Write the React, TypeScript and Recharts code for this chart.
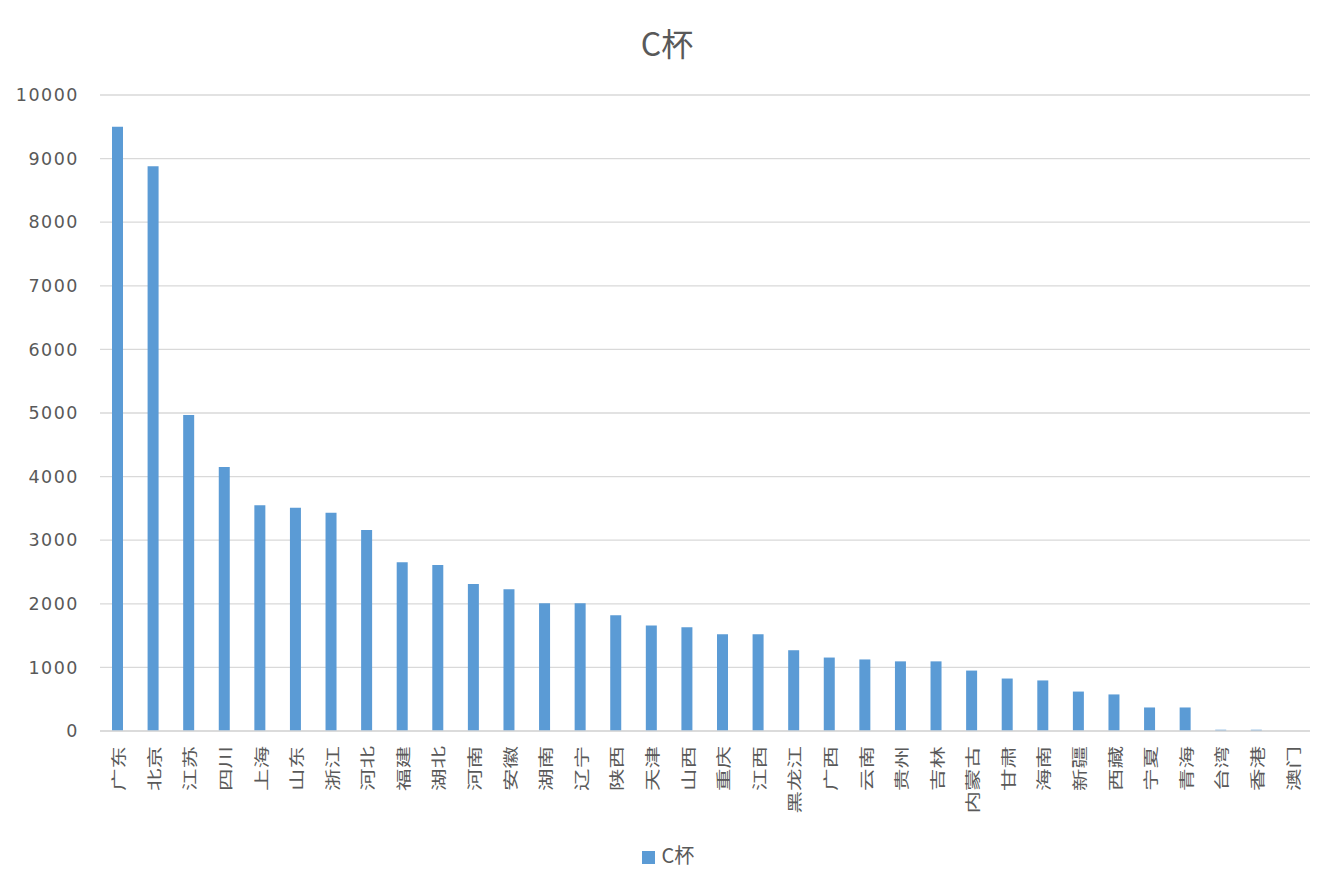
import { Bar, BarChart, CartesianGrid, Legend, XAxis, YAxis } from "recharts";

const provinces = [
  "广东", "北京", "江苏", "四川", "上海", "山东", "浙江", "河北", "福建", "湖北", "河南", "安徽",
  "湖南", "辽宁", "陕西", "天津", "山西", "重庆", "江西", "黑龙江", "广西", "云南", "贵州", "吉林",
  "内蒙古", "甘肃", "海南", "新疆", "西藏", "宁夏", "青海", "台湾", "香港", "澳门",
];

const cupC = [
  9500, 8880, 4970, 4150, 3550, 3510, 3430, 3160, 2655, 2610, 2310, 2230,
  2010, 2010, 1820, 1660, 1630, 1520, 1520, 1270, 1155, 1125, 1095, 1095,
  950, 825, 795, 620, 575, 370, 370, 20, 20, 0,
];

const yTicks = [0, 1000, 2000, 3000, 4000, 5000, 6000, 7000, 8000, 9000, 10000];

const data = provinces.map((name, i) => ({ name, value: cupC[i] }));

const font = '"DejaVu Sans", "Noto Sans CJK SC", sans-serif';
const cjkFont = '"Noto Sans CJK SC", sans-serif';

function ProvinceTick({ x, y, payload }: any) {
  return (
    <g transform={`translate(${x},${y + 7})`}>
      <text
        transform="rotate(-90) scale(1.25,0.85)"
        textAnchor="end"
        dominantBaseline="central"
        fill="#595959"
        fontSize={18}
        fontFamily={cjkFont}
      >
        {payload.value}
      </text>
    </g>
  );
}

export default function App() {
  return (
    <div style={{ position: "absolute", left: 0, top: 0, background: "#fff" }}>
      <BarChart
        width={1334}
        height={889}
        data={data}
        margin={{ top: 95, right: 24, left: 0, bottom: 22 }}
      >
        <text x={667} y={56} textAnchor="middle" fontSize={32} fill="#595959" fontFamily={cjkFont}>
          C杯
        </text>
        <CartesianGrid vertical={false} stroke="#d9d9d9" strokeWidth={1.3} />
        <XAxis
          dataKey="name"
          interval={0}
          height={112}
          tickLine={false}
          stroke="#d9d9d9"
          strokeWidth={1.3}
          tick={<ProvinceTick />}
        />
        <YAxis
          width={100}
          domain={[0, 10000]}
          ticks={yTicks}
          axisLine={false}
          tickLine={false}
          tickMargin={15}
          tick={{ fill: "#595959", fontSize: 17.5, fontFamily: font, letterSpacing: 1.5 }}
        />
        <Legend
          verticalAlign="bottom"
          iconType="square"
          iconSize={13}
          wrapperStyle={{ fontSize: 20, fontFamily: cjkFont, lineHeight: "24px", paddingLeft: 18 }}
          formatter={(v) => <span style={{ color: "#595959", marginLeft: 3 }}>{v}</span>}
        />
        <Bar dataKey="value" name="C杯" fill="#5b9bd5" barSize={11} isAnimationActive={false} />
      </BarChart>
    </div>
  );
}
